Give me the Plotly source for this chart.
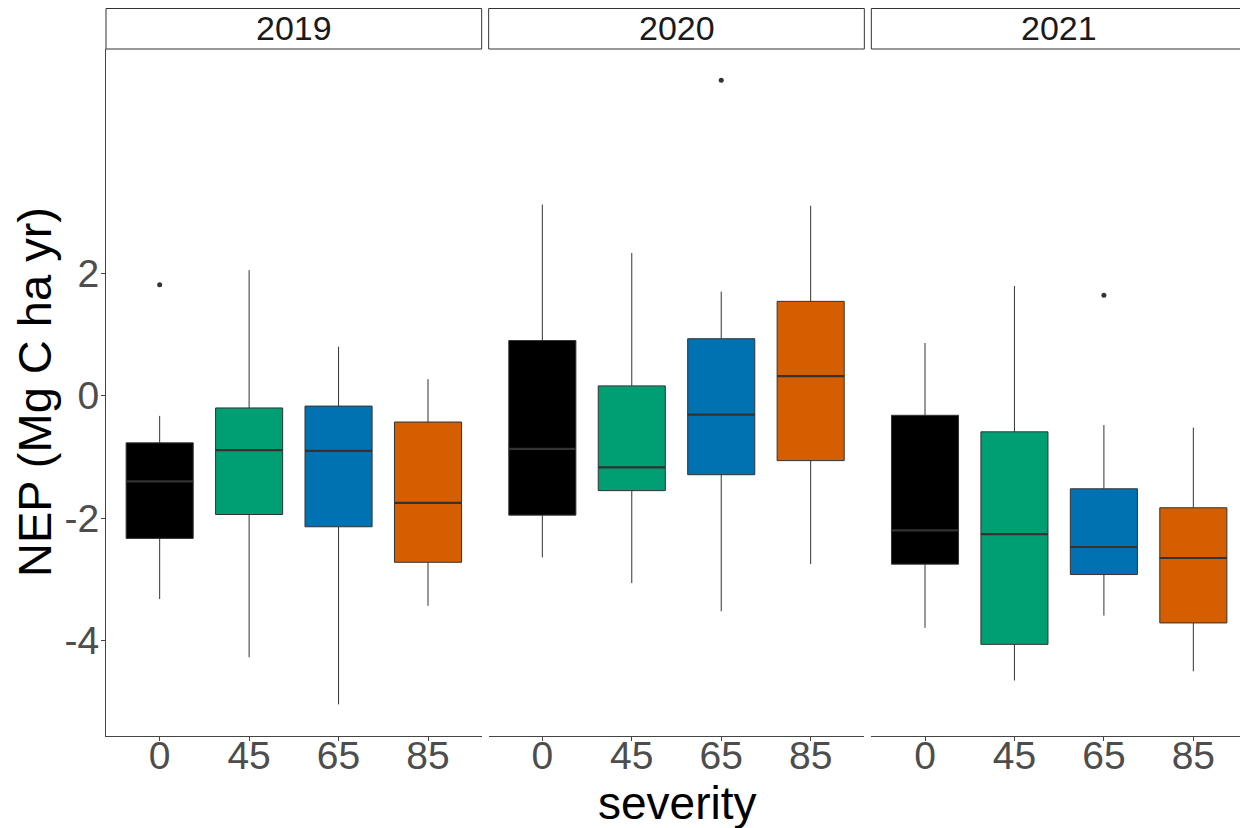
import plotly.graph_objects as go
from plotly.subplots import make_subplots

# ---------------- data ----------------
years = ["2019", "2020", "2021"]
severity = ["0", "45", "65", "85"]
colors = ["#000000", "#009E73", "#0072B2", "#D55E00"]

lower_whisker = [
    [-3.32, -4.27, -5.04, -3.43],
    [-2.64, -3.06, -3.52, -2.75],
    [-3.79, -4.65, -3.59, -4.50],
]
q1 = [
    [-2.33, -1.94, -2.14, -2.72],
    [-1.95, -1.55, -1.29, -1.06],
    [-2.75, -4.06, -2.92, -3.71],
]
median = [
    [-1.40, -0.89, -0.90, -1.75],
    [-0.87, -1.17, -0.31, 0.32],
    [-2.20, -2.26, -2.47, -2.65],
]
q3 = [
    [-0.77, -0.20, -0.17, -0.43],
    [0.90, 0.16, 0.93, 1.54],
    [-0.32, -0.59, -1.52, -1.83],
]
upper_whisker = [
    [-0.33, 2.05, 0.80, 0.27],
    [3.12, 2.33, 1.70, 3.10],
    [0.86, 1.79, -0.48, -0.52],
]
outlier_year = ["2019", "2020", "2021"]
outlier_sev = ["0", "65", "65"]
outlier_val = [1.81, 5.15, 1.64]

y_tickvals = [-4, -2, 0, 2]
y_ticktext = ["-4", "-2", "0", "2"]

# ---------------- figure geometry ----------------
# the page body has an 8px margin, so the figure is drawn at (8, 8)
OFF = 8
W, H = 1248 - OFF, 828 - OFF
ML = 106 - OFF
MT = 49 - OFF
MB = H - (736 - OFF)
MR = 1
PW, PH = W - ML - MR, H - MT - MB
BOX_W = 0.75
FONT = "Liberation Sans, Arial, Helvetica, sans-serif"
LINE = "#333333"
AXIS = "#444444"

fig = make_subplots(rows=1, cols=3, shared_yaxes=True,
                    horizontal_spacing=7 / PW)

for c, yr in enumerate(years):
    col = c + 1
    for i, sev in enumerate(severity):
        fig.add_trace(go.Box(
            x=[i], q1=[q1[c][i]], median=[median[c][i]], q3=[q3[c][i]],
            lowerfence=[lower_whisker[c][i]], upperfence=[upper_whisker[c][i]],
            width=BOX_W, whiskerwidth=0, boxpoints=False,
            fillcolor=colors[i], line=dict(color=LINE, width=1),
            showlegend=False, hoverinfo="skip",
        ), row=1, col=col)
    # thicker median lines (ggplot style)
    mx, my = [], []
    for i in range(len(severity)):
        mx += [i - BOX_W / 2, i + BOX_W / 2, None]
        my += [median[c][i], median[c][i], None]
    fig.add_trace(go.Scatter(x=mx, y=my, mode="lines",
                             line=dict(color=LINE, width=2.2),
                             showlegend=False, hoverinfo="skip"),
                  row=1, col=col)
    # outliers
    ox = [severity.index(s) for y_, s in zip(outlier_year, outlier_sev) if y_ == yr]
    oy = [v for y_, v in zip(outlier_year, outlier_val) if y_ == yr]
    if ox:
        fig.add_trace(go.Scatter(x=ox, y=oy, mode="markers",
                                 marker=dict(color=LINE, size=5),
                                 showlegend=False, hoverinfo="skip"),
                      row=1, col=col)

    xa = "x" if c == 0 else f"x{col}"
    # strip
    fig.add_shape(type="rect", xref=f"{xa} domain", yref="paper",
                  x0=0, x1=1, y0=1.0, y1=1 + 40.5 / PH,
                  fillcolor="white", line=dict(color=LINE, width=1),
                  layer="above")
    fig.add_annotation(text=yr, xref=f"{xa} domain", yref="paper",
                       x=0.5, y=1 + (MT - (28.5 - OFF)) / PH,
                       xanchor="center", yanchor="middle",
                       showarrow=False,
                       font=dict(family=FONT, size=34, color="#1A1A1A"))

fig.update_xaxes(range=[-0.6, 3.6], tickvals=list(range(len(severity))),
                 ticktext=severity, showgrid=False, zeroline=False,
                 showline=True, linecolor=AXIS, linewidth=1.2,
                 ticks="outside", ticklen=4, tickcolor=AXIS,
                 ticklabelstandoff=-19,
                 tickfont=dict(family=FONT, size=39, color="#4D4D4D"))
fig.update_yaxes(range=[-5.556, 5.66], tickvals=y_tickvals, ticktext=y_ticktext,
                 showgrid=False, zeroline=False)
fig.update_yaxes(showline=True, linecolor=AXIS, linewidth=1.2,
                 ticks="outside", ticklen=4, tickcolor=AXIS,
                 ticklabelstandoff=-6,
                 tickfont=dict(family=FONT, size=39, color="#4D4D4D"),
                 row=1, col=1)
for col in (2, 3):
    fig.update_yaxes(showline=False, ticks="", showticklabels=False, row=1, col=col)

fig.add_annotation(text="severity", xref="paper", yref="paper",
                   x=0.5, y=-((803 - OFF) - (MT + PH)) / PH,
                   xanchor="center", yanchor="middle",
                   showarrow=False, font=dict(family=FONT, size=46, color="black"))
fig.add_annotation(text="NEP (Mg C ha yr)", xref="paper", yref="paper",
                   x=((34.5 - OFF) - ML) / PW, y=0.5,
                   xanchor="center", yanchor="middle",
                   textangle=-90, showarrow=False,
                   font=dict(family=FONT, size=47, color="black"))

fig.update_layout(width=W, height=H,
                  margin=dict(l=ML, r=MR, t=MT, b=MB),
                  paper_bgcolor="white", plot_bgcolor="white",
                  boxmode="overlay", showlegend=False)

fig.write_html("out.html")
